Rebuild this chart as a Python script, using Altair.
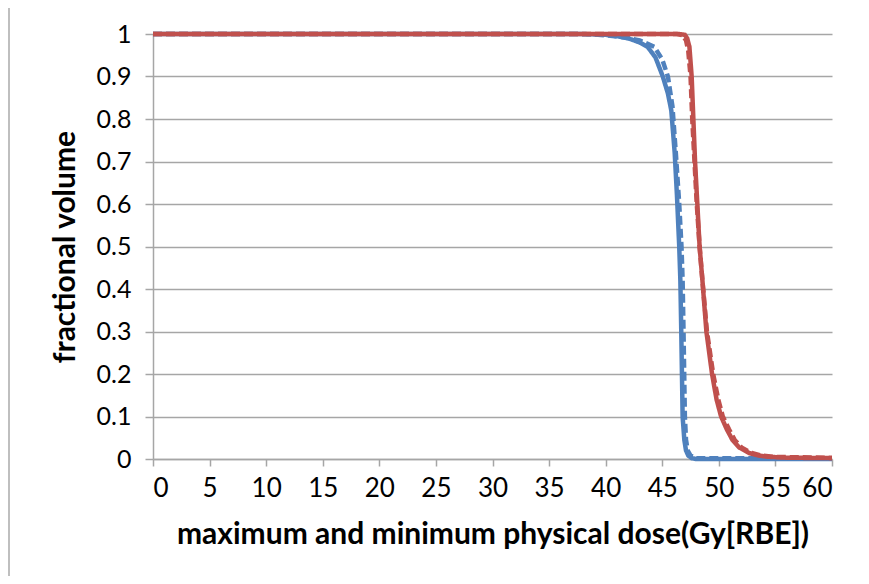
import altair as alt
import pandas as pd

# ---- data ----
blue_solid_dose = [0, 38, 40, 41, 42, 43, 43.7, 44.4, 45.05, 45.5, 45.8, 46.1, 46.3, 46.5, 46.6,
                   46.68, 46.74, 46.8, 46.95, 47.1, 47.3, 47.6, 48.0, 60]
blue_solid_vol = [1, 1, 0.998, 0.995, 0.99, 0.98, 0.97, 0.945, 0.9, 0.86, 0.82, 0.72, 0.62, 0.5, 0.42,
                  0.3, 0.2, 0.1, 0.045, 0.02, 0.008, 0.002, 0, 0]

blue_dash_dose = [0, 37, 39, 40, 41, 42, 43, 44.3, 45.0, 45.5, 45.9, 46.2, 46.5, 46.7, 46.8,
                  46.88, 46.94, 47.0, 47.1, 47.25, 47.5, 48, 60]
blue_dash_vol = [1, 1, 0.999, 0.997, 0.994, 0.99, 0.985, 0.97, 0.94, 0.9, 0.83, 0.72, 0.6, 0.5, 0.42,
                 0.3, 0.2, 0.1, 0.045, 0.02, 0.008, 0.002, 0.001]

red_solid_dose = [0, 46.5, 47.0, 47.2, 47.4, 47.6, 47.75, 47.9, 48.1, 48.3, 48.55, 48.9, 49.4, 49.8,
                  50.2, 50.7, 51.2, 51.8, 52.7, 53.5, 54.5, 56, 60]
red_solid_vol = [1, 1, 0.998, 0.99, 0.97, 0.9, 0.8, 0.7, 0.6, 0.5, 0.42, 0.3, 0.2, 0.14,
                 0.1, 0.07, 0.045, 0.027, 0.014, 0.008, 0.005, 0.003, 0.002]

red_dash_dose = [0, 46.3, 46.8, 47.1, 47.3, 47.5, 47.65, 47.85, 48.05, 48.3, 48.55, 48.95, 49.5, 49.95,
                 50.35, 50.9, 51.4, 52.0, 52.9, 53.8, 55, 57, 60]
red_dash_vol = [1, 1, 0.997, 0.985, 0.96, 0.9, 0.8, 0.7, 0.6, 0.5, 0.42, 0.3, 0.2, 0.14,
                0.1, 0.07, 0.045, 0.027, 0.014, 0.008, 0.005, 0.004, 0.003]

series_names = ["blue solid", "blue dashed", "red solid", "red dashed"]
series_colors = ["#4F81BD", "#4F81BD", "#C0504D", "#C0504D"]
series_dash = [[1, 0], [9, 4], [1, 0], [9, 4]]

x_ticks = list(range(0, 61, 5))
y_ticks = [i / 10 for i in range(0, 11)]

rows = []
for name, d, v in zip(series_names,
                      [blue_solid_dose, blue_dash_dose, red_solid_dose, red_dash_dose],
                      [blue_solid_vol, blue_dash_vol, red_solid_vol, red_dash_vol]):
    for i, (a, b) in enumerate(zip(d, v)):
        rows.append({"dose": a, "vol": b, "series": name, "order": i})
df = pd.DataFrame(rows)

FONT = "Lato"

lines = alt.Chart(df).mark_line(strokeWidth=4.5, clip=False).encode(
    x=alt.X("dose:Q",
            scale=alt.Scale(domain=[0, 60], nice=False),
            axis=alt.Axis(values=x_ticks, title="maximum and minimum physical dose(Gy[RBE])",
                          grid=False, domainColor="#a6a6a6", domainWidth=1.5,
                          tickColor="#a6a6a6", tickWidth=1.5, tickSize=7,
                          labelFont=FONT, labelFontSize=26, labelColor="#000000",
                          labelPadding=9, titleFont=FONT, titleFontSize=30,
                          titleFontWeight="bold", titleColor="#000000", titlePadding=18)),
    y=alt.Y("vol:Q",
            scale=alt.Scale(domain=[0, 1], nice=False),
            axis=alt.Axis(values=y_ticks, format=".1~f", title="fractional volume",
                          grid=True, gridColor="#a6a6a6", gridWidth=1.5,
                          domainColor="#a6a6a6", domainWidth=1.5,
                          tickColor="#a6a6a6", tickWidth=1.5, tickSize=8,
                          labelFont=FONT, labelFontSize=25, labelColor="#000000",
                          labelPadding=14, titleFont=FONT, titleFontSize=30,
                          titleFontWeight="bold", titleColor="#000000", titlePadding=16)),
    color=alt.Color("series:N", scale=alt.Scale(domain=series_names, range=series_colors),
                    legend=None),
    strokeDash=alt.StrokeDash("series:N", scale=alt.Scale(domain=series_names, range=series_dash),
                              legend=None),
    order="order:Q",
)

frame = alt.Chart(pd.DataFrame({"k": [0]})).mark_rule(color="#bfbfbf", strokeWidth=2, clip=False).encode(
    x=alt.value(-144), y=alt.value(-30), y2=alt.value(545)
)

chart = alt.layer(lines, frame).properties(
    width=679, height=425,
    autosize=alt.AutoSizeParams(type="none"),
    padding={"left": 145, "top": 26, "right": 29, "bottom": 117},
).configure_view(stroke=None)

chart.save("out.html", embed_options={"renderer": "svg", "actions": False})
